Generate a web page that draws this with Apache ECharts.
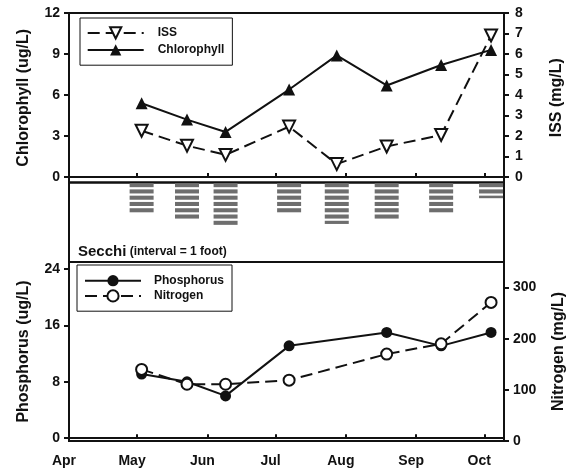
<!DOCTYPE html>
<html>
<head>
<meta charset="utf-8">
<script src="https://cdn.jsdelivr.net/npm/echarts@6/dist/echarts.min.js"></script>
<style>
  html, body { margin: 0; padding: 0; background: #fff; }
  #chart { width: 571px; height: 471px; }
</style>
</head>
<body>
<div id="chart"></div>
<script>
// Sampling dates (season starts 1 April)
const seasonStart = '2001-04-01';
const sampleDates = ['2001-05-03', '2001-05-23', '2001-06-09', '2001-07-07', '2001-07-28', '2001-08-19', '2001-09-12', '2001-10-04'];
const chlorophyll = [5.4, 4.2, 3.3, 6.4, 8.9, 6.7, 8.2, 9.3];      // ug/L
const iss = [2.26, 1.53, 1.08, 2.46, 0.63, 1.49, 2.05, 6.9];          // mg/L
const secchiFeet = [5, 6, 7, 5, 6.6, 6, 5, 2.5];                     // feet

const nutrientDates = ['2001-05-03', '2001-05-23', '2001-06-09', '2001-07-07', '2001-08-19', '2001-09-12', '2001-10-04'];
const phosphorus = [9.1, 8.0, 6.0, 13.1, 15.0, 13.1, 15.0];         // ug/L
const nitrogen = [140, 111, 111, 119, 170, 190, 271];                // mg/L

const monthStarts = ['2001-04-01', '2001-05-01', '2001-06-01', '2001-07-01', '2001-08-01', '2001-09-01', '2001-10-01'];
const monthLabels = ['Apr', 'May', 'Jun', 'Jul', 'Aug', 'Sep', 'Oct'];

const chlTicks = [0, 3, 6, 9, 12];
const issTicks = [0, 1, 2, 3, 4, 5, 6, 7, 8];
const phosTicks = [0, 8, 16, 24];
const nitroTicks = [0, 100, 200, 300];

// days since the start of the season
function dayOf(s) {
  return (Date.parse(s) - Date.parse(seasonStart)) / 86400000;
}
const monthDays = monthStarts.map(dayOf);
const pairs = (dates, vals) => dates.map((d, i) => [dayOf(d), vals[i]]);

const FONT = "'Liberation Sans', Arial, sans-serif";
const INK = '#111';
const X_MAX = 191.7;

const tickLabel = { fontFamily: FONT, fontWeight: 'bold', fontSize: 14, color: INK };
const axisTitle = { fontFamily: FONT, fontWeight: 'bold', fontSize: 16, color: INK };

function yAxisDef(opts) {
  return Object.assign({
    type: 'value',
    splitLine: { show: false },
    axisLine: { show: true, lineStyle: { color: INK, width: 2 } },
    axisTick: { show: true, length: 5, lineStyle: { color: INK, width: 2 }, customValues: opts.ticks },
    axisLabel: Object.assign({ margin: opts.margin, customValues: opts.ticks }, tickLabel),
    nameLocation: 'middle',
    nameRotate: 90,
    nameTextStyle: axisTitle
  }, opts.extra);
}

const gridBase = { left: 69, right: 67, show: true, borderColor: INK, borderWidth: 2, outerBoundsMode: 'none', containLabel: false };

const chart = echarts.init(document.getElementById('chart'), null, { renderer: 'canvas' });

chart.setOption({
  animation: false,
  backgroundColor: '#fff',
  grid: [
    Object.assign({ top: 13, height: 169.5 }, gridBase),
    Object.assign({ top: 182.5, height: 79.5 }, gridBase),
    Object.assign({ top: 262, height: 179 }, gridBase)
  ],
  xAxis: [
    {
      gridIndex: 0, type: 'value', min: 0, max: X_MAX,
      splitLine: { show: false },
      axisLine: { show: true, lineStyle: { color: INK, width: 2 } },
      axisTick: { show: true, inside: true, length: 4, lineStyle: { color: INK, width: 2 }, customValues: monthDays },
      axisLabel: { show: false }
    },
    {
      gridIndex: 1, type: 'value', min: 0, max: X_MAX, show: false
    },
    {
      gridIndex: 2, type: 'value', min: 0, max: X_MAX,
      splitLine: { show: false },
      axisLine: { show: true, lineStyle: { color: INK, width: 2 } },
      axisTick: { show: true, inside: true, length: 4, lineStyle: { color: INK, width: 2 }, customValues: monthDays },
      axisLabel: Object.assign({
        customValues: monthDays,
        margin: 13,
        padding: [0, 10, 0, 0],
        formatter: v => monthLabels[monthDays.indexOf(v)] || ''
      }, tickLabel)
    }
  ],
  yAxis: [
    yAxisDef({ ticks: chlTicks, margin: 9, extra: { gridIndex: 0, position: 'left', min: -0.4, max: 12, name: 'Chlorophyll (ug/L)', nameGap: 37 } }),
    yAxisDef({ ticks: issTicks, margin: 11, extra: { gridIndex: 0, position: 'right', min: -0.2667, max: 8, name: 'ISS (mg/L)', nameGap: 45 } }),
    { gridIndex: 1, type: 'value', min: 0, max: 12.66, inverse: true, show: false },
    yAxisDef({ ticks: phosTicks, margin: 9, extra: { gridIndex: 2, position: 'left', min: -0.4, max: 25, name: 'Phosphorus (ug/L)', nameGap: 37 } }),
    yAxisDef({ ticks: nitroTicks, margin: 9, extra: { gridIndex: 2, position: 'right', min: 0, max: 350, name: 'Nitrogen (mg/L)', nameGap: 47 } })
  ],
  legend: [
    {
      data: ['ISS', 'Chlorophyll'],
      orient: 'vertical', left: 80, top: 18,
      itemWidth: 56, itemHeight: 14, itemGap: 4.4,
      padding: [8.3, 8, 9.3, 6.7],
      borderColor: INK, borderWidth: 1,
      selectedMode: false,
      textStyle: { fontFamily: FONT, fontWeight: 'bold', fontSize: 12, color: INK, padding: [0, 0, 0, 9] }
    },
    {
      data: ['Phosphorus', 'Nitrogen'],
      orient: 'vertical', left: 77, top: 265,
      itemWidth: 56, itemHeight: 14, itemGap: 2.6,
      padding: [9.7, 8, 8.7, 7],
      borderColor: INK, borderWidth: 1,
      selectedMode: false,
      textStyle: { fontFamily: FONT, fontWeight: 'bold', fontSize: 12, color: INK, padding: [0, 0, 0, 8] }
    }
  ],
  graphic: [
    {
      type: 'text', left: 78, top: 244,
      style: {
        text: '{a|Secchi} {b|(interval = 1 foot)}',
        rich: {
          a: { fontFamily: FONT, fontWeight: 'bold', fontSize: 15, fill: INK },
          b: { fontFamily: FONT, fontWeight: 'bold', fontSize: 12, fill: INK }
        }
      }
    }
  ],
  series: [
    {
      name: 'ISS', type: 'line', xAxisIndex: 0, yAxisIndex: 1,
      data: pairs(sampleDates, iss),
      symbol: 'emptyTriangle', symbolRotate: 180, symbolSize: 12,
      itemStyle: { color: INK, borderWidth: 1.3 },
      lineStyle: { color: INK, width: 2, type: [12, 6] }
    },
    {
      name: 'Chlorophyll', type: 'line', xAxisIndex: 0, yAxisIndex: 0,
      data: pairs(sampleDates, chlorophyll),
      symbol: 'triangle', symbolSize: 12,
      itemStyle: { color: INK },
      lineStyle: { color: INK, width: 2 }
    },
    {
      name: 'Secchi', type: 'custom', xAxisIndex: 1, yAxisIndex: 2,
      data: pairs(sampleDates, secchiFeet),
      renderItem: function (params, api) {
        const x = api.value(0);
        const depth = api.value(1);
        const cx = api.coord([x, 0])[0];
        const depthY = api.coord([x, depth])[1];
        const children = [];
        for (let i = 0; i < depth; i++) {
          const top = api.coord([x, i])[1] + 0.6;
          const bottom = Math.min(api.coord([x, i + 1])[1] - 1.6, depthY);
          if (bottom <= top) continue;
          children.push({
            type: 'rect',
            shape: { x: cx - 12, y: top, width: 24, height: bottom - top },
            style: { fill: '#6e6e6e' }
          });
        }
        return { type: 'group', children: children };
      }
    },
    {
      name: 'Phosphorus', type: 'line', xAxisIndex: 2, yAxisIndex: 3,
      data: pairs(nutrientDates, phosphorus),
      symbol: 'circle', symbolSize: 11,
      itemStyle: { color: INK },
      lineStyle: { color: INK, width: 2 }
    },
    {
      name: 'Nitrogen', type: 'line', xAxisIndex: 2, yAxisIndex: 4,
      data: pairs(nutrientDates, nitrogen),
      symbol: 'emptyCircle', symbolSize: 11,
      itemStyle: { color: INK, borderWidth: 1.3 },
      lineStyle: { color: INK, width: 2, type: [12, 6] }
    }
  ]
});
</script>
</body>
</html>
